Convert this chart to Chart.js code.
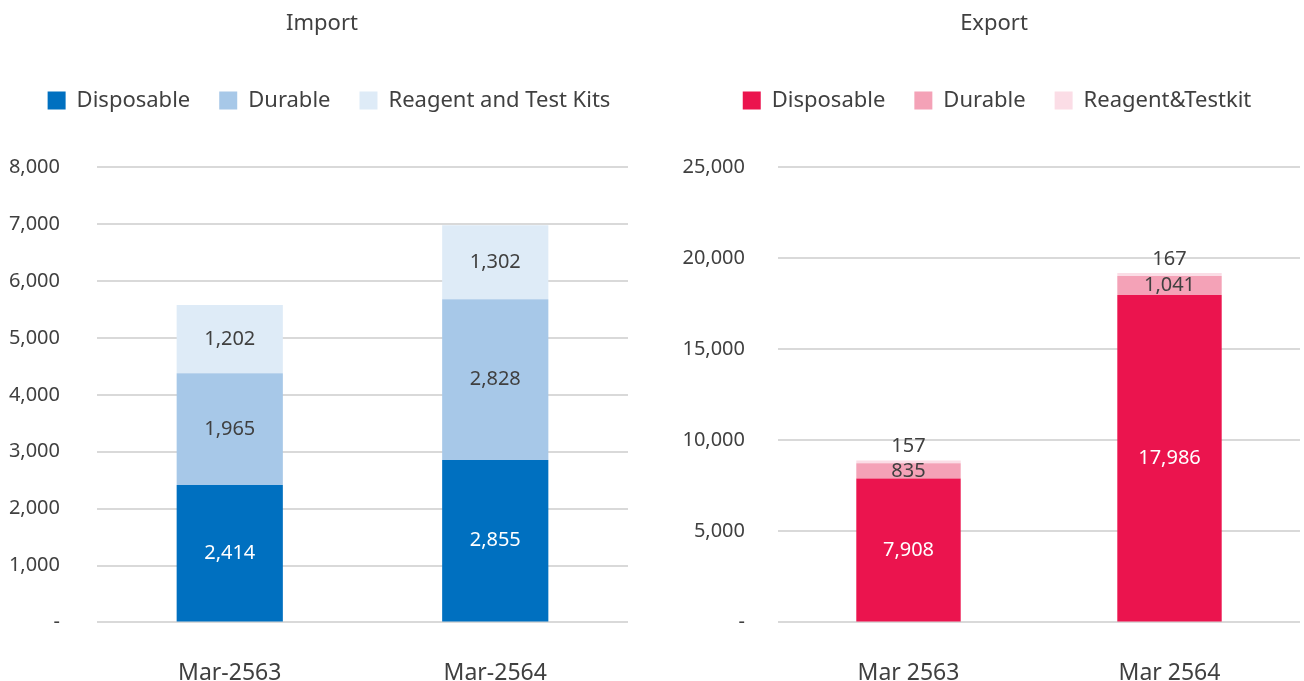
<!DOCTYPE html>
<html>
<head>
<meta charset="utf-8">
<script src="https://cdn.jsdelivr.net/npm/chart.js@4"></script>
<style>
  body { margin: 0; background: #fff; }
  .box { position: absolute; top: 0; height: 681px; }
  #left { left: 0; width: 645px; }
  #right { left: 670px; width: 634px; }
</style>
</head>
<body>
<div class="box" id="left"><canvas id="importChart"></canvas></div>
<div class="box" id="right"><canvas id="exportChart"></canvas></div>
<script>
const importLabels = ["Mar-2563", "Mar-2564"];
const importDisposable = [2414, 2855];
const importDurable = [1965, 2828];
const importReagent = [1202, 1302];

const exportLabels = ["Mar 2563", "Mar 2564"];
const exportDisposable = [7908, 17986];
const exportDurable = [835, 1041];
const exportReagent = [157, 167];

const FONT = "'Noto Sans', sans-serif";
const TEXT = "#404040";

// draws the value in the middle of each stacked segment
const segmentLabels = {
  id: "segmentLabels",
  afterDatasetsDraw(chart) {
    const ctx = chart.ctx;
    ctx.save();
    ctx.font = "20px " + FONT;
    ctx.textAlign = "center";
    ctx.textBaseline = "middle";
    chart.data.datasets.forEach((ds, i) => {
      const meta = chart.getDatasetMeta(i);
      meta.data.forEach((bar, j) => {
        const { x, y, base } = bar.getProps(["x", "y", "base"], true);
        const h = base - y;
        let ty = y + h / 2;
        if (h < 8) ty = y - 14;
        ctx.fillStyle = ds.labelColor;
        ctx.fillText(ds.data[j].toLocaleString("en-US"), x, ty);
      });
    });
    ctx.restore();
  },
};

// leaves room between the legend and the plot
const legendGap = {
  id: "legendGap",
  beforeInit(chart) {
    const fit = chart.legend.fit;
    chart.legend.fit = function () {
      fit.bind(chart.legend)();
      this.height += 46;
    };
  },
};

// nudges title and legend sideways, the way the original sits
const headerShift = {
  id: "headerShift",
  afterLayout(chart, args, opts) {
    chart.titleBlock.left += opts.title;
    chart.titleBlock.right += opts.title;
    chart.legend.left += opts.legend;
    chart.legend.right += opts.legend;
  },
};

function makeChart(id, title, labels, series, opts) {
  const ctx = document.getElementById(id);
  return new Chart(ctx, {
    type: "bar",
    data: {
      labels,
      datasets: series.map((s) => ({
        label: s.label,
        data: s.data,
        backgroundColor: s.color,
        labelColor: s.labelColor,
        barPercentage: 0.4,
        categoryPercentage: 1,
      })),
    },
    options: {
      responsive: true,
      maintainAspectRatio: false,
      animation: false,
      layout: { padding: { left: 0, right: opts.padRight, top: 0, bottom: -43 } },
      plugins: {
        title: {
          display: true,
          text: title,
          color: TEXT,
          font: { family: FONT, size: 22, weight: "normal" },
          padding: { top: 11, bottom: 23 },
        },
        legend: {
          labels: {
            color: TEXT,
            font: { family: FONT, size: 22 },
            boxWidth: 18,
            boxHeight: 18,
            padding: 29,
          },
        },
        tooltip: { enabled: false },
        headerShift: { title: opts.titleShift, legend: opts.legendShift },
      },
      scales: {
        x: {
          stacked: true,
          grid: { display: false, drawTicks: false },
          border: { display: false },
          ticks: { color: TEXT, font: { family: FONT, size: 23 }, padding: 37 },
        },
        y: {
          stacked: true,
          min: 0,
          max: opts.max,
          afterFit: (s) => { s.width = opts.yWidth; },
          grid: { color: "#d9d9d9", lineWidth: 2, drawTicks: false },
          border: { display: false },
          ticks: {
            stepSize: opts.step,
            color: TEXT,
            font: { family: FONT, size: 20 },
            padding: opts.tickPad,
            callback: (v) => (v === 0 ? "-" : v.toLocaleString("en-US")),
          },
        },
      },
    },
    plugins: [segmentLabels, legendGap, headerShift],
  });
}

makeChart("importChart", "Import", importLabels, [
  { label: "Disposable", data: importDisposable, color: "#0070C0", labelColor: "#ffffff" },
  { label: "Durable", data: importDurable, color: "#A7C8E8", labelColor: TEXT },
  { label: "Reagent and Test Kits", data: importReagent, color: "#DEEBF7", labelColor: TEXT },
], { max: 8000, step: 1000, yWidth: 97, padRight: 17, tickPad: 37, titleShift: 8, legendShift: 15 });

makeChart("exportChart", "Export", exportLabels, [
  { label: "Disposable", data: exportDisposable, color: "#EB144E", labelColor: "#ffffff" },
  { label: "Durable", data: exportDurable, color: "#F4A2B7", labelColor: TEXT },
  { label: "Reagent&Testkit", data: exportReagent, color: "#FBDDE6", labelColor: TEXT },
], { max: 25000, step: 5000, yWidth: 108, padRight: 4, tickPad: 33, titleShift: 9, legendShift: 12 });
</script>
</body>
</html>
